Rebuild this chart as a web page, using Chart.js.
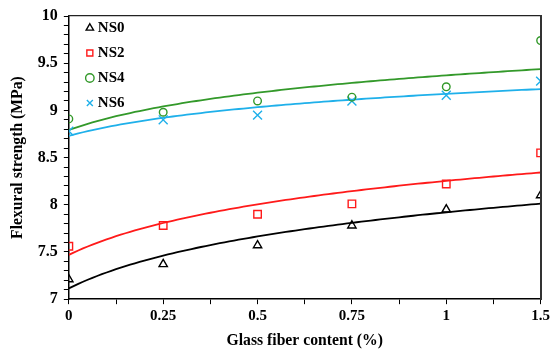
<!DOCTYPE html>
<html>
<head>
<meta charset="utf-8">
<script src="https://cdn.jsdelivr.net/npm/chart.js@4.4.1/dist/chart.umd.min.js"></script>
<style>
  html, body { margin: 0; padding: 0; background: #fff; }
  #wrap { width: 550px; height: 350px; }
</style>
</head>
<body>
<div id="wrap"><canvas id="chart"></canvas></div>
<script>
// Glass fiber content categories (equally spaced on the axis)
const fiberContent = ['0', '0.25', '0.5', '0.75', '1', '1.5'];

// Flexural strength (MPa) per mix
const ns0 = [7.21, 7.37, 7.57, 7.78, 7.95, 8.10];
const ns2 = [7.56, 7.78, 7.90, 8.01, 8.22, 8.55];
const ns4 = [8.91, 8.98, 9.10, 9.14, 9.25, 9.74];
const ns6 = [8.78, 8.90, 8.95, 9.10, 9.16, 9.31];

const seriesNames = ['NS0', 'NS2', 'NS4', 'NS6'];
const yTickLabels = ['7', '7.5', '8', '8.5', '9', '9.5', '10'];

const serif = '"Liberation Serif", "Times New Roman", serif';

// Least-squares logarithmic trend y = a*ln(n) + b, n = 1..6 (category order)
function logTrend(values) {
  const lx = values.map((_, i) => Math.log(i + 1));
  const n = values.length;
  const mx = lx.reduce((s, v) => s + v, 0) / n;
  const my = values.reduce((s, v) => s + v, 0) / n;
  let sxy = 0, sxx = 0;
  for (let i = 0; i < n; i++) {
    sxy += (lx[i] - mx) * (values[i] - my);
    sxx += (lx[i] - mx) * (lx[i] - mx);
  }
  const a = sxy / sxx, b = my - a * mx;
  const pts = [];
  for (let k = 0; k <= 100; k++) {
    const x = (n - 1) * k / 100;
    pts.push({ x, y: a * Math.log(x + 1) + b });
  }
  return pts;
}

const toPoints = values => values.map((v, i) => ({ x: i, y: v }));

const styles = [
  { color: '#000000', point: 'triangle', radius: 4.8 },
  { color: '#ff1a1a', point: 'rect', radius: 5.3 },
  { color: '#33992a', point: 'circle', radius: 3.8 },
  { color: '#1fb0ea', point: 'crossRot', radius: 6.3 }
];
const seriesValues = [ns0, ns2, ns4, ns6];

const datasets = [];
seriesValues.forEach((vals, s) => {
  datasets.push({
    label: seriesNames[s],
    data: toPoints(vals),
    showLine: false,
    pointStyle: styles[s].point,
    pointRadius: styles[s].radius,
    pointHoverRadius: styles[s].radius,
    pointBorderWidth: 1.4,
    borderColor: styles[s].color,
    backgroundColor: 'rgba(255,255,255,0)',
    order: 1
  });
});
seriesValues.forEach((vals, s) => {
  datasets.push({
    label: seriesNames[s] + ' trend',
    data: logTrend(vals),
    showLine: true,
    pointRadius: 0,
    borderColor: styles[s].color,
    borderWidth: 1.8,
    tension: 0,
    fill: false,
    order: 2
  });
});

const isHalfStep = v => Math.abs(v * 2 - Math.round(v * 2)) < 1e-6;

// Places the legend block just inside the top-left corner of the plot area
const legendInset = {
  id: 'legendInset',
  afterLayout(chart) {
    const lg = chart.legend;
    if (!lg) return;
    const w = lg.width, h = lg.height;
    lg.left = chart.chartArea.left + 10.5;
    lg.top = chart.chartArea.top - 5.5;
    lg.right = lg.left + w;
    lg.bottom = lg.top + h;
  }
};

// Hidden-tick axes used only to close the frame on the top and right
const frameGrid = { display: true, drawOnChartArea: false, drawTicks: false, color: 'rgba(0,0,0,0)' };

new Chart(document.getElementById('chart'), {
  type: 'scatter',
  data: { datasets },
  plugins: [legendInset],
  options: {
    responsive: true,
    maintainAspectRatio: false,
    animation: false,
    layout: { padding: { top: 16, left: 9, right: 0, bottom: 0 } },
    plugins: {
      tooltip: { enabled: false },
      legend: {
        position: 'chartArea',
        align: 'start',
        labels: {
          filter: item => seriesNames.includes(item.text),
          usePointStyle: true,
          boxWidth: 1,
          boxHeight: 6,
          padding: 10,
          color: '#000',
          font: { family: serif, size: 15, weight: 'bold' }
        }
      }
    },
    scales: {
      x: {
        type: 'linear',
        position: 'bottom',
        min: 0,
        max: fiberContent.length - 1,
        afterBuildTicks: scale => {
          const t = [];
          for (let i = 0; i <= (fiberContent.length - 1) * 2; i++) t.push({ value: i / 2 });
          scale.ticks = t;
        },
        ticks: {
          autoSkip: false,
          maxRotation: 0,
          padding: 0,
          color: '#000',
          font: { family: serif, size: 15, weight: 'bold', lineHeight: 1.6 },
          callback: v => Number.isInteger(v) ? fiberContent[v] : ''
        },
        grid: { drawOnChartArea: false, drawTicks: true, tickLength: 5, color: '#000', tickWidth: 1 },
        border: { display: true, color: '#000', width: 1.5 },
        title: {
          display: true,
          text: 'Glass fiber content (%)',
          color: '#000',
          font: { family: serif, size: 15.7, weight: 'bold' },
          padding: { top: 3, bottom: 0 }
        }
      },
      y: {
        type: 'linear',
        position: 'left',
        min: 7,
        max: 10,
        afterBuildTicks: scale => {
          const t = [];
          for (let i = 0; i <= 30; i++) t.push({ value: 7 + i / 10 });
          scale.ticks = t;
        },
        ticks: {
          autoSkip: false,
          padding: 6,
          color: '#000',
          font: { family: serif, size: 16, weight: 'bold' },
          callback: v => isHalfStep(v) ? yTickLabels[Math.round((v - 7) * 2)] : ''
        },
        grid: { drawOnChartArea: false, drawTicks: true, tickLength: 5, color: '#000', tickWidth: 1 },
        border: { display: true, color: '#000', width: 1.5 },
        title: {
          display: true,
          text: 'Flexural strength (MPa)',
          color: '#000',
          font: { family: serif, size: 15.7, weight: 'bold' },
          padding: { top: 0, bottom: 4 }
        }
      },
      xTop: {
        type: 'linear',
        display: true,
        position: 'top',
        min: 0,
        max: fiberContent.length - 1,
        ticks: { display: false },
        grid: frameGrid,
        border: { display: true, color: '#222', width: 1.3, z: 1 }
      },
      yRight: {
        type: 'linear',
        display: true,
        position: 'right',
        min: 7,
        max: 10,
        ticks: { display: false },
        grid: frameGrid,
        border: { display: true, color: '#333', width: 2, z: 1 }
      }
    }
  }
});
</script>
</body>
</html>
